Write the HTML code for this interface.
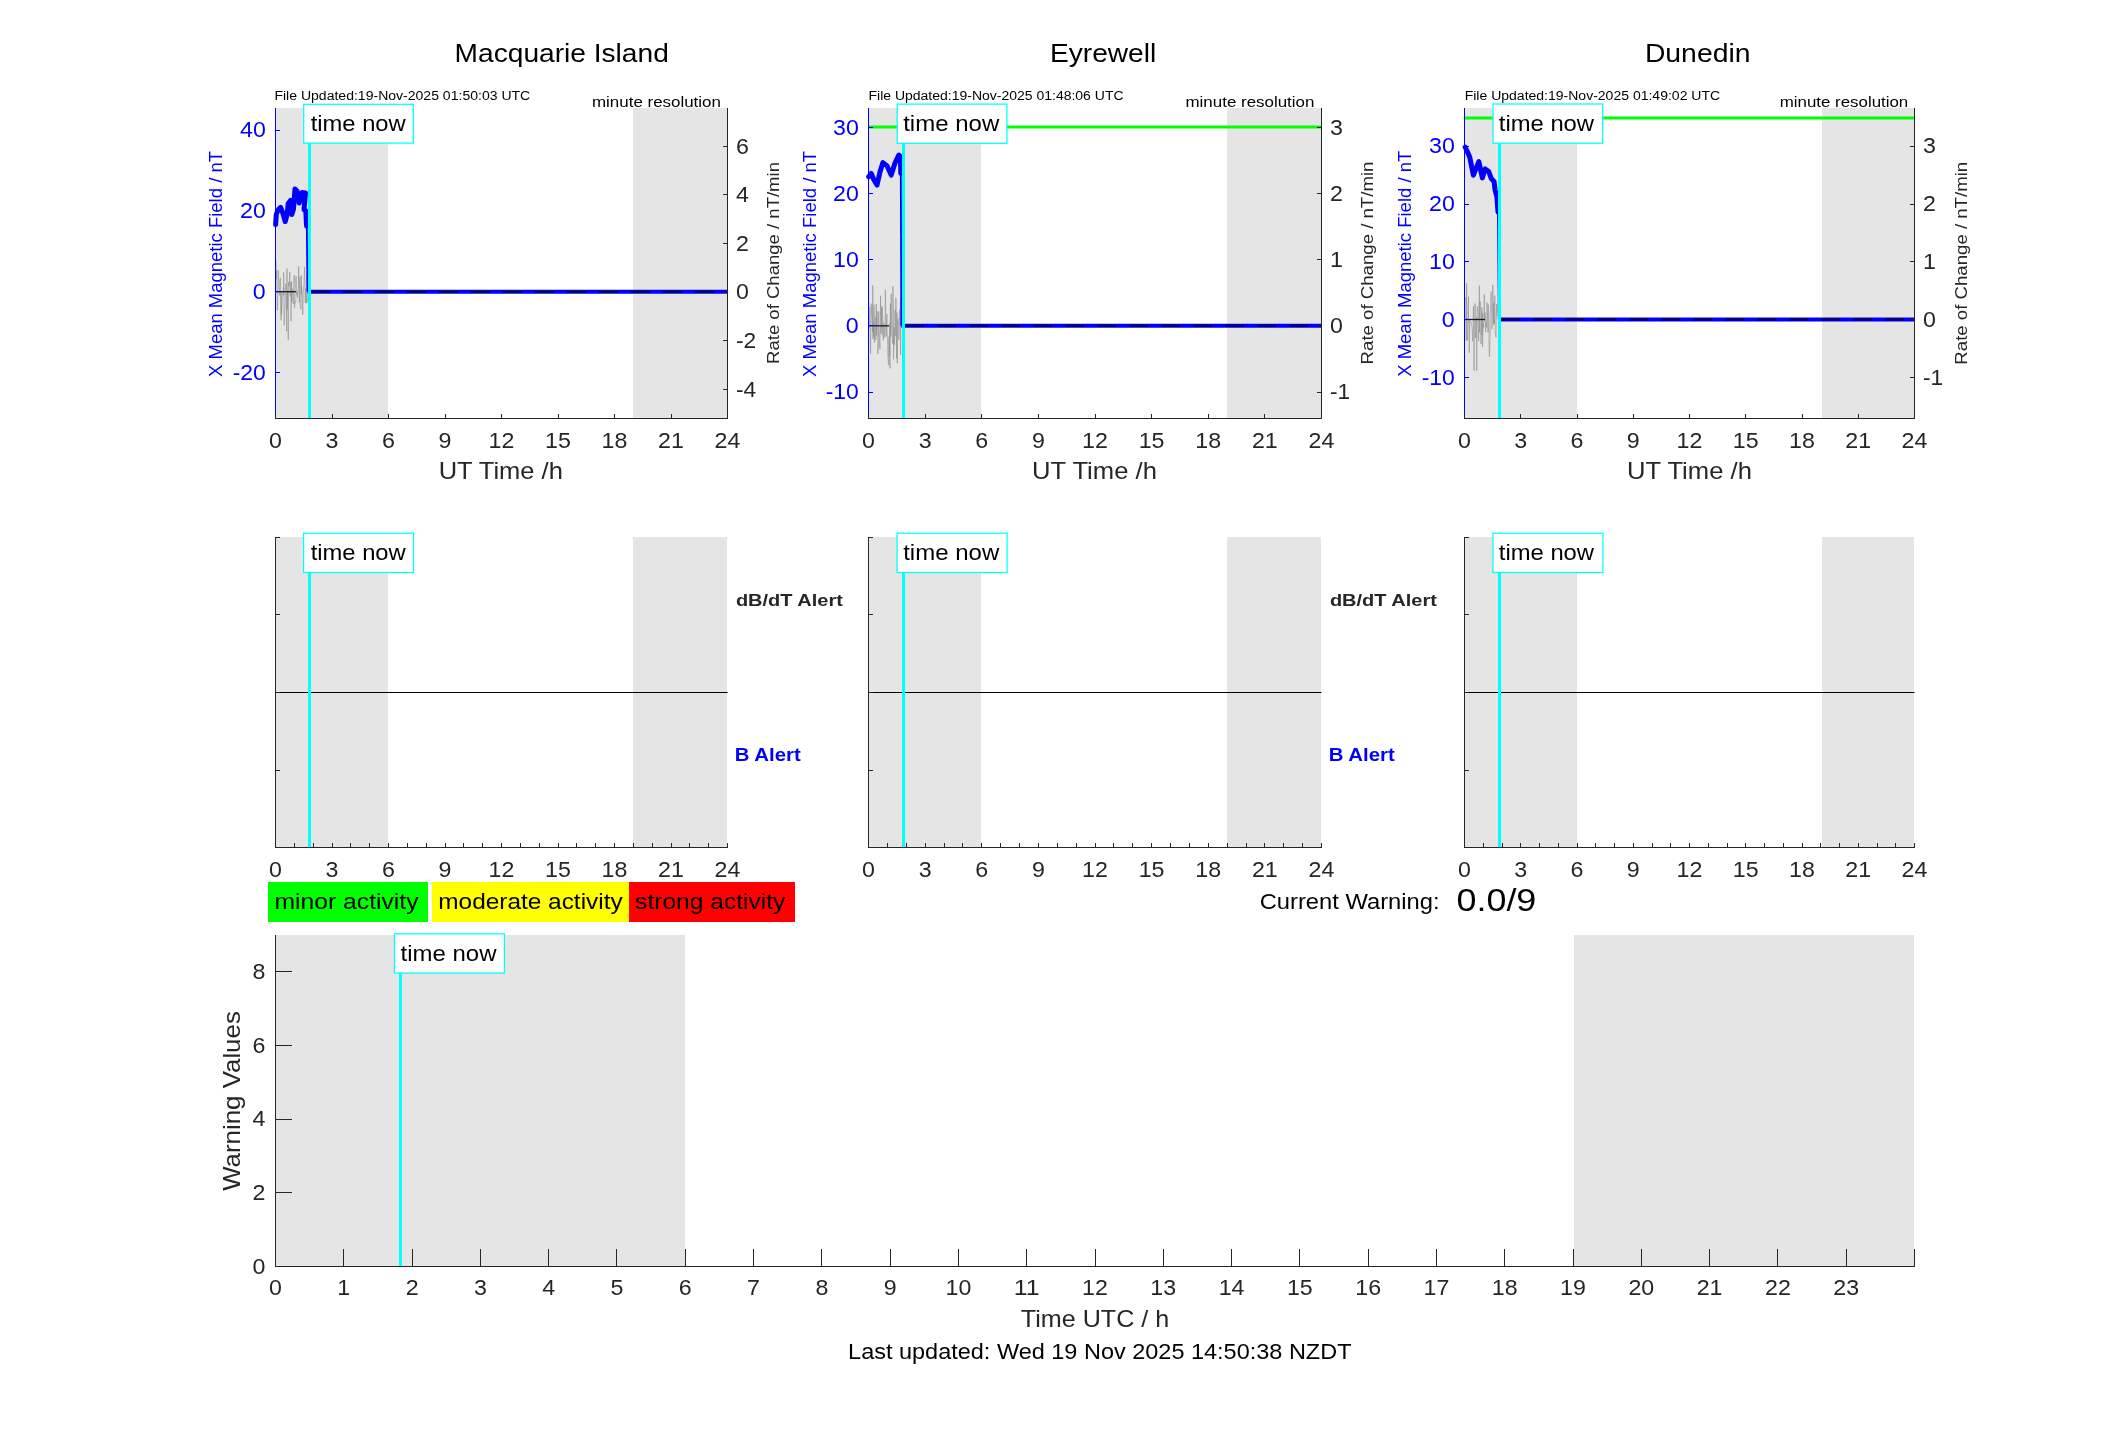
<!DOCTYPE html>
<html><head><meta charset="utf-8"><title>Geomagnetic activity</title>
<style>
html,body{margin:0;padding:0;background:#fff;}
body{width:2117px;height:1437px;overflow:hidden;}
svg{display:block;font-family:"Liberation Sans",sans-serif;will-change:transform;}
</style></head><body>
<svg width="2117" height="1437" viewBox="0 0 2117 1437">
<rect x="0" y="0" width="2117" height="1437" fill="#fff"/>
<g shape-rendering="crispEdges">
<rect x="276.00" y="108.00" width="112.00" height="310.00" fill="#e5e5e5" />
<rect x="633.00" y="108.00" width="94.00" height="310.00" fill="#e5e5e5" />
</g>
<path d="M275.97,260.00 L276.40,279.20 L276.61,270.61 L276.95,290.12 L277.35,310.28 L278.28,270.23 L278.48,277.25 L278.81,278.87 L279.00,291.89 L279.55,295.40 L280.00,280.47 L280.36,278.08 L281.08,320.42 L281.07,290.92 L281.46,314.83 L282.19,302.62 L282.65,291.98 L283.02,291.29 L283.47,287.03 L283.74,295.21 L283.73,272.51 L284.14,325.30 L284.53,316.61 L285.21,301.54 L285.38,290.80 L285.74,283.80 L286.19,286.75 L286.65,331.29 L286.99,268.52 L287.32,309.85 L287.79,290.36 L288.24,339.70 L288.51,281.99 L289.08,286.14 L289.83,272.19 L289.77,293.70 L290.60,296.40 L290.90,281.35 L290.97,321.21 L291.50,282.14 L291.67,302.47 L292.20,289.13 L292.80,289.19 L292.89,300.67 L293.58,304.12 L294.19,275.13 L294.05,287.39 L294.55,307.88 L295.18,301.33 L295.83,302.17 L296.05,276.05 L296.05,287.53 L296.85,294.72 L297.12,290.98 L297.42,297.63 L298.07,291.68 L298.47,284.06 L298.64,266.19 L299.37,302.45 L299.74,280.41 L300.00,277.05 L300.07,305.06 L301.02,309.33 L301.26,275.10 L301.48,295.01 L301.64,286.37 L302.31,294.58 L302.78,314.74 L302.97,304.36 L303.33,292.60 L304.15,283.02 L304.21,278.02 L304.53,267.06 L305.34,303.13 L305.56,288.41 L306.11,299.12 L306.43,303.18 L306.67,287.97 L306.93,273.67 L307.39,302.52" fill="none" stroke="#8a8a8a" stroke-width="0.55"/>
<line x1="276.00" y1="291.70" x2="296.00" y2="291.70" stroke="#1a1a1a" stroke-width="1.3" />
<path d="M275.6,224.5 L276.3,214.0 L278.5,209.5 L280.6,207.3 L283.0,213.5 L285.2,221.5 L287.2,214.0 L288.2,203.5 L290.5,200.5 L291.8,214.5 L293.5,209.0 L295.0,189.0 L297.0,191.0 L299.2,203.0 L302.0,192.5 L305.5,193.0 L304.0,209.5 L305.8,211.0 L306.6,226.0" fill="none" stroke="#0000ff" stroke-width="5" stroke-linejoin="round" stroke-linecap="round"/>
<line x1="306.80" y1="224.00" x2="307.50" y2="291.70" stroke="#0000ff" stroke-width="1.8" />
<line x1="307.50" y1="291.70" x2="727.00" y2="291.70" stroke="#0000ff" stroke-width="4" />
<line x1="311.00" y1="291.70" x2="727.00" y2="291.70" stroke="#00004d" stroke-width="2" stroke-dasharray="19 13"/>
<rect x="308.00" y="108.00" width="3.00" height="310.00" fill="#00ffff" />
<g shape-rendering="crispEdges">
<rect x="275.00" y="108.00" width="1.00" height="311.00" fill="#0000ff" />
<rect x="275.00" y="418.00" width="453.00" height="1.00" fill="#262626" />
<rect x="727.00" y="108.00" width="1.00" height="311.00" fill="#262626" />
<rect x="275.00" y="130.00" width="5.00" height="1.00" fill="#0000ff" />
<rect x="275.00" y="210.00" width="5.00" height="1.00" fill="#0000ff" />
<rect x="275.00" y="291.00" width="5.00" height="1.00" fill="#0000ff" />
<rect x="275.00" y="372.00" width="5.00" height="1.00" fill="#0000ff" />
<rect x="723.00" y="146.00" width="5.00" height="1.00" fill="#262626" />
<rect x="723.00" y="194.00" width="5.00" height="1.00" fill="#262626" />
<rect x="723.00" y="243.00" width="5.00" height="1.00" fill="#262626" />
<rect x="723.00" y="292.00" width="5.00" height="1.00" fill="#262626" />
<rect x="723.00" y="340.00" width="5.00" height="1.00" fill="#262626" />
<rect x="723.00" y="389.00" width="5.00" height="1.00" fill="#262626" />
<line x1="275.50" y1="418.00" x2="275.50" y2="413.50" stroke="#262626" stroke-width="1" />
<line x1="332.00" y1="418.00" x2="332.00" y2="413.50" stroke="#262626" stroke-width="1" />
<line x1="388.50" y1="418.00" x2="388.50" y2="413.50" stroke="#262626" stroke-width="1" />
<line x1="445.00" y1="418.00" x2="445.00" y2="413.50" stroke="#262626" stroke-width="1" />
<line x1="501.50" y1="418.00" x2="501.50" y2="413.50" stroke="#262626" stroke-width="1" />
<line x1="558.00" y1="418.00" x2="558.00" y2="413.50" stroke="#262626" stroke-width="1" />
<line x1="614.50" y1="418.00" x2="614.50" y2="413.50" stroke="#262626" stroke-width="1" />
<line x1="671.00" y1="418.00" x2="671.00" y2="413.50" stroke="#262626" stroke-width="1" />
<line x1="727.50" y1="418.00" x2="727.50" y2="413.50" stroke="#262626" stroke-width="1" />
</g>
<text x="275.50" y="448.30" font-size="21.32" fill="#262626" text-anchor="middle" textLength="12.91" lengthAdjust="spacingAndGlyphs">0</text>
<text x="332.00" y="448.30" font-size="21.32" fill="#262626" text-anchor="middle" textLength="12.91" lengthAdjust="spacingAndGlyphs">3</text>
<text x="388.50" y="448.30" font-size="21.32" fill="#262626" text-anchor="middle" textLength="12.91" lengthAdjust="spacingAndGlyphs">6</text>
<text x="445.00" y="448.30" font-size="21.32" fill="#262626" text-anchor="middle" textLength="12.91" lengthAdjust="spacingAndGlyphs">9</text>
<text x="501.50" y="448.30" font-size="21.32" fill="#262626" text-anchor="middle" textLength="25.81" lengthAdjust="spacingAndGlyphs">12</text>
<text x="558.00" y="448.30" font-size="21.32" fill="#262626" text-anchor="middle" textLength="25.81" lengthAdjust="spacingAndGlyphs">15</text>
<text x="614.50" y="448.30" font-size="21.32" fill="#262626" text-anchor="middle" textLength="25.81" lengthAdjust="spacingAndGlyphs">18</text>
<text x="671.00" y="448.30" font-size="21.32" fill="#262626" text-anchor="middle" textLength="25.81" lengthAdjust="spacingAndGlyphs">21</text>
<text x="727.50" y="448.30" font-size="21.32" fill="#262626" text-anchor="middle" textLength="25.81" lengthAdjust="spacingAndGlyphs">24</text>
<text x="265.80" y="137.30" font-size="21.32" fill="#0000ff" text-anchor="end" textLength="25.81" lengthAdjust="spacingAndGlyphs">40</text>
<text x="265.80" y="218.10" font-size="21.32" fill="#0000ff" text-anchor="end" textLength="25.81" lengthAdjust="spacingAndGlyphs">20</text>
<text x="265.80" y="299.00" font-size="21.32" fill="#0000ff" text-anchor="end" textLength="12.91" lengthAdjust="spacingAndGlyphs">0</text>
<text x="265.80" y="379.50" font-size="21.32" fill="#0000ff" text-anchor="end" textLength="33.14" lengthAdjust="spacingAndGlyphs">-20</text>
<text x="736.00" y="153.50" font-size="21.32" fill="#262626" textLength="12.91" lengthAdjust="spacingAndGlyphs">6</text>
<text x="736.00" y="202.10" font-size="21.32" fill="#262626" textLength="12.91" lengthAdjust="spacingAndGlyphs">4</text>
<text x="736.00" y="250.70" font-size="21.32" fill="#262626" textLength="12.91" lengthAdjust="spacingAndGlyphs">2</text>
<text x="736.00" y="299.30" font-size="21.32" fill="#262626" textLength="12.91" lengthAdjust="spacingAndGlyphs">0</text>
<text x="736.00" y="347.90" font-size="21.32" fill="#262626" textLength="20.23" lengthAdjust="spacingAndGlyphs">-2</text>
<text x="736.00" y="396.50" font-size="21.32" fill="#262626" textLength="20.23" lengthAdjust="spacingAndGlyphs">-4</text>
<rect x="303.70" y="104.30" width="109.70" height="38.80" fill="#fff" stroke="#00ffff" stroke-width="1.25"/>
<text x="310.70" y="131.30" font-size="21.42" fill="#000" textLength="95.06" lengthAdjust="spacingAndGlyphs">time now</text>
<text x="454.60" y="61.90" font-size="25.93" fill="#000" textLength="214.22" lengthAdjust="spacingAndGlyphs">Macquarie Island</text>
<text x="274.40" y="99.90" font-size="13.12" fill="#000" textLength="255.86" lengthAdjust="spacingAndGlyphs">File Updated:19-Nov-2025 01:50:03 UTC</text>
<text x="592.00" y="107.00" font-size="15.12" fill="#000" textLength="128.87" lengthAdjust="spacingAndGlyphs">minute resolution</text>
<text x="221.50" y="264.00" font-size="17.43" fill="#0000ff" text-anchor="middle" textLength="225.93" lengthAdjust="spacingAndGlyphs" transform="rotate(-90 221.50 264.00)">X Mean Magnetic Field / nT</text>
<text x="779.20" y="263.00" font-size="17.22" fill="#262626" text-anchor="middle" textLength="201.93" lengthAdjust="spacingAndGlyphs" transform="rotate(-90 779.20 263.00)">Rate of Change / nT/min</text>
<text x="500.75" y="478.80" font-size="23.52" fill="#262626" text-anchor="middle" textLength="124.16" lengthAdjust="spacingAndGlyphs">UT Time /h</text>
<g shape-rendering="crispEdges">
<rect x="869.00" y="108.00" width="112.00" height="310.00" fill="#e5e5e5" />
<rect x="1227.00" y="108.00" width="94.00" height="310.00" fill="#e5e5e5" />
</g>
<line x1="869.00" y1="127.10" x2="1321.00" y2="127.10" stroke="#00ff00" stroke-width="3" />
<path d="M869.27,328.02 L869.22,328.50 L869.90,306.81 L870.49,353.50 L870.68,347.95 L871.15,303.65 L871.66,314.13 L872.05,318.44 L872.50,331.92 L872.76,285.47 L872.91,339.14 L873.73,322.08 L873.65,336.61 L874.00,304.66 L874.39,342.74 L875.02,317.18 L875.73,320.35 L875.76,340.29 L876.32,303.93 L876.45,335.51 L877.01,311.02 L877.78,332.55 L877.85,353.74 L878.34,345.19 L878.62,311.49 L879.15,333.95 L879.62,342.04 L879.88,349.28 L880.59,295.77 L880.76,333.40 L881.45,325.08 L881.64,307.70 L882.13,335.10 L882.08,305.96 L882.85,320.51 L883.14,334.06 L883.31,340.39 L883.82,322.74 L884.61,331.23 L884.78,337.47 L885.11,322.35 L885.33,289.54 L886.22,336.35 L886.35,328.02 L886.95,313.99 L887.09,331.70 L887.73,344.18 L887.77,353.90 L888.51,365.03 L889.01,336.47 L889.33,356.64 L889.68,322.99 L889.97,368.40 L890.40,303.52 L890.68,336.78 L891.20,293.80 L891.69,330.68 L892.29,337.75 L892.61,343.53 L892.84,286.43 L893.46,308.10 L893.51,359.37 L894.04,327.50 L894.31,345.05 L895.14,309.84 L895.04,314.45 L895.85,336.21 L895.88,297.79 L896.55,358.26 L897.02,312.56 L897.25,363.30 L898.00,318.77 L898.26,320.16 L898.30,337.52 L898.85,339.59 L899.35,327.88 L899.59,309.41 L900.38,328.21 L900.62,354.93 L900.72,297.73" fill="none" stroke="#8a8a8a" stroke-width="0.55"/>
<line x1="869.00" y1="325.80" x2="889.00" y2="325.80" stroke="#1a1a1a" stroke-width="1.3" />
<path d="M868.7,176.8 L871.2,173.4 L874.0,180.0 L877.0,185.1 L880.0,172.0 L882.9,162.6 L887.1,165.9 L891.2,175.1 L895.0,163.0 L898.8,155.0 L900.4,156.7 L900.8,173.4" fill="none" stroke="#0000ff" stroke-width="5" stroke-linejoin="round" stroke-linecap="round"/>
<line x1="900.80" y1="173.40" x2="901.30" y2="325.80" stroke="#0000ff" stroke-width="1.8" />
<line x1="901.30" y1="325.80" x2="1321.00" y2="325.80" stroke="#0000ff" stroke-width="4" />
<line x1="905.00" y1="325.80" x2="1321.00" y2="325.80" stroke="#00004d" stroke-width="2" stroke-dasharray="19 13"/>
<rect x="902.00" y="108.00" width="3.00" height="310.00" fill="#00ffff" />
<g shape-rendering="crispEdges">
<rect x="868.00" y="108.00" width="1.00" height="311.00" fill="#0000ff" />
<rect x="868.00" y="418.00" width="454.00" height="1.00" fill="#262626" />
<rect x="1321.00" y="108.00" width="1.00" height="311.00" fill="#262626" />
<rect x="868.00" y="127.00" width="5.00" height="1.00" fill="#0000ff" />
<rect x="868.00" y="193.00" width="5.00" height="1.00" fill="#0000ff" />
<rect x="868.00" y="259.00" width="5.00" height="1.00" fill="#0000ff" />
<rect x="868.00" y="325.00" width="5.00" height="1.00" fill="#0000ff" />
<rect x="868.00" y="392.00" width="5.00" height="1.00" fill="#0000ff" />
<rect x="1317.00" y="127.00" width="5.00" height="1.00" fill="#262626" />
<rect x="1317.00" y="193.00" width="5.00" height="1.00" fill="#262626" />
<rect x="1317.00" y="259.00" width="5.00" height="1.00" fill="#262626" />
<rect x="1317.00" y="325.00" width="5.00" height="1.00" fill="#262626" />
<rect x="1317.00" y="392.00" width="5.00" height="1.00" fill="#262626" />
<line x1="868.50" y1="418.00" x2="868.50" y2="413.50" stroke="#262626" stroke-width="1" />
<line x1="925.12" y1="418.00" x2="925.12" y2="413.50" stroke="#262626" stroke-width="1" />
<line x1="981.75" y1="418.00" x2="981.75" y2="413.50" stroke="#262626" stroke-width="1" />
<line x1="1038.38" y1="418.00" x2="1038.38" y2="413.50" stroke="#262626" stroke-width="1" />
<line x1="1095.00" y1="418.00" x2="1095.00" y2="413.50" stroke="#262626" stroke-width="1" />
<line x1="1151.62" y1="418.00" x2="1151.62" y2="413.50" stroke="#262626" stroke-width="1" />
<line x1="1208.25" y1="418.00" x2="1208.25" y2="413.50" stroke="#262626" stroke-width="1" />
<line x1="1264.88" y1="418.00" x2="1264.88" y2="413.50" stroke="#262626" stroke-width="1" />
<line x1="1321.50" y1="418.00" x2="1321.50" y2="413.50" stroke="#262626" stroke-width="1" />
</g>
<text x="868.50" y="448.30" font-size="21.32" fill="#262626" text-anchor="middle" textLength="12.91" lengthAdjust="spacingAndGlyphs">0</text>
<text x="925.12" y="448.30" font-size="21.32" fill="#262626" text-anchor="middle" textLength="12.91" lengthAdjust="spacingAndGlyphs">3</text>
<text x="981.75" y="448.30" font-size="21.32" fill="#262626" text-anchor="middle" textLength="12.91" lengthAdjust="spacingAndGlyphs">6</text>
<text x="1038.38" y="448.30" font-size="21.32" fill="#262626" text-anchor="middle" textLength="12.91" lengthAdjust="spacingAndGlyphs">9</text>
<text x="1095.00" y="448.30" font-size="21.32" fill="#262626" text-anchor="middle" textLength="25.81" lengthAdjust="spacingAndGlyphs">12</text>
<text x="1151.62" y="448.30" font-size="21.32" fill="#262626" text-anchor="middle" textLength="25.81" lengthAdjust="spacingAndGlyphs">15</text>
<text x="1208.25" y="448.30" font-size="21.32" fill="#262626" text-anchor="middle" textLength="25.81" lengthAdjust="spacingAndGlyphs">18</text>
<text x="1264.88" y="448.30" font-size="21.32" fill="#262626" text-anchor="middle" textLength="25.81" lengthAdjust="spacingAndGlyphs">21</text>
<text x="1321.50" y="448.30" font-size="21.32" fill="#262626" text-anchor="middle" textLength="25.81" lengthAdjust="spacingAndGlyphs">24</text>
<text x="858.80" y="134.50" font-size="21.32" fill="#0000ff" text-anchor="end" textLength="25.81" lengthAdjust="spacingAndGlyphs">30</text>
<text x="858.80" y="200.70" font-size="21.32" fill="#0000ff" text-anchor="end" textLength="25.81" lengthAdjust="spacingAndGlyphs">20</text>
<text x="858.80" y="266.90" font-size="21.32" fill="#0000ff" text-anchor="end" textLength="25.81" lengthAdjust="spacingAndGlyphs">10</text>
<text x="858.80" y="333.10" font-size="21.32" fill="#0000ff" text-anchor="end" textLength="12.91" lengthAdjust="spacingAndGlyphs">0</text>
<text x="858.80" y="399.30" font-size="21.32" fill="#0000ff" text-anchor="end" textLength="33.14" lengthAdjust="spacingAndGlyphs">-10</text>
<text x="1330.00" y="134.50" font-size="21.32" fill="#262626" textLength="12.91" lengthAdjust="spacingAndGlyphs">3</text>
<text x="1330.00" y="200.70" font-size="21.32" fill="#262626" textLength="12.91" lengthAdjust="spacingAndGlyphs">2</text>
<text x="1330.00" y="266.90" font-size="21.32" fill="#262626" textLength="12.91" lengthAdjust="spacingAndGlyphs">1</text>
<text x="1330.00" y="333.10" font-size="21.32" fill="#262626" textLength="12.91" lengthAdjust="spacingAndGlyphs">0</text>
<text x="1330.00" y="399.30" font-size="21.32" fill="#262626" textLength="20.23" lengthAdjust="spacingAndGlyphs">-1</text>
<rect x="897.20" y="104.10" width="109.70" height="39.20" fill="#fff" stroke="#00ffff" stroke-width="1.25"/>
<text x="903.20" y="131.30" font-size="21.42" fill="#000" textLength="96.06" lengthAdjust="spacingAndGlyphs">time now</text>
<text x="1050.00" y="61.90" font-size="25.93" fill="#000" textLength="106.18" lengthAdjust="spacingAndGlyphs">Eyrewell</text>
<text x="868.50" y="99.90" font-size="13.12" fill="#000" textLength="255.04" lengthAdjust="spacingAndGlyphs">File Updated:19-Nov-2025 01:48:06 UTC</text>
<text x="1185.50" y="107.00" font-size="15.12" fill="#000" textLength="128.90" lengthAdjust="spacingAndGlyphs">minute resolution</text>
<text x="815.70" y="264.00" font-size="17.43" fill="#0000ff" text-anchor="middle" textLength="226.13" lengthAdjust="spacingAndGlyphs" transform="rotate(-90 815.70 264.00)">X Mean Magnetic Field / nT</text>
<text x="1373.40" y="263.00" font-size="17.22" fill="#262626" text-anchor="middle" textLength="202.76" lengthAdjust="spacingAndGlyphs" transform="rotate(-90 1373.40 263.00)">Rate of Change / nT/min</text>
<text x="1094.50" y="478.80" font-size="23.52" fill="#262626" text-anchor="middle" textLength="124.79" lengthAdjust="spacingAndGlyphs">UT Time /h</text>
<g shape-rendering="crispEdges">
<rect x="1465.00" y="108.00" width="112.00" height="310.00" fill="#e5e5e5" />
<rect x="1822.00" y="108.00" width="92.00" height="310.00" fill="#e5e5e5" />
</g>
<line x1="1465.00" y1="118.10" x2="1914.00" y2="118.10" stroke="#00ff00" stroke-width="3" />
<path d="M1465.04,299.62 L1465.50,297.72 L1466.06,328.53 L1466.22,340.91 L1466.64,283.38 L1466.91,332.44 L1467.43,340.20 L1467.79,326.60 L1468.50,296.76 L1468.38,311.22 L1468.92,327.28 L1469.23,352.69 L1469.71,319.24 L1470.15,321.29 L1470.48,322.69 L1471.22,322.14 L1471.26,324.29 L1471.62,326.00 L1472.11,327.69 L1472.68,341.32 L1473.12,326.12 L1473.50,306.10 L1474.08,370.70 L1474.34,340.36 L1474.61,338.58 L1475.12,303.50 L1475.25,338.01 L1475.91,330.84 L1476.35,317.32 L1476.74,370.70 L1477.09,324.14 L1477.37,306.10 L1478.04,314.46 L1478.65,341.29 L1478.73,332.83 L1479.33,285.57 L1479.59,332.70 L1479.82,301.39 L1480.25,301.43 L1480.61,309.06 L1480.95,344.12 L1481.90,307.23 L1481.72,334.83 L1482.61,313.33 L1482.55,347.13 L1483.06,323.14 L1483.55,327.52 L1484.32,294.46 L1484.64,321.31 L1484.92,319.69 L1485.03,312.29 L1485.63,332.15 L1485.81,321.93 L1486.42,327.52 L1487.05,302.43 L1487.12,308.65 L1487.43,311.61 L1487.97,332.43 L1488.20,304.58 L1489.03,324.45 L1489.03,343.36 L1489.48,356.82 L1490.20,333.32 L1490.24,315.62 L1491.10,291.40 L1491.55,313.27 L1491.81,323.52 L1492.10,329.39 L1492.41,315.18 L1492.79,284.86 L1493.62,324.98 L1493.52,303.05 L1493.96,320.32 L1494.50,323.57 L1494.78,295.52 L1495.16,331.82 L1496.03,337.55 L1496.41,309.23 L1496.83,304.08 L1497.17,316.47" fill="none" stroke="#8a8a8a" stroke-width="0.55"/>
<line x1="1465.00" y1="319.50" x2="1485.00" y2="319.50" stroke="#1a1a1a" stroke-width="1.3" />
<path d="M1465.2,147.2 L1467.5,152.0 L1469.7,157.1 L1473.4,175.2 L1478.8,161.6 L1482.4,177.9 L1485.1,168.9 L1488.7,171.6 L1491.4,178.8 L1494.1,181.5 L1495.0,189.6 L1496.9,196.9 L1498.0,212.0" fill="none" stroke="#0000ff" stroke-width="5" stroke-linejoin="round" stroke-linecap="round"/>
<line x1="1498.00" y1="212.00" x2="1498.80" y2="319.50" stroke="#0000ff" stroke-width="1.8" />
<line x1="1498.80" y1="319.50" x2="1914.00" y2="319.50" stroke="#0000ff" stroke-width="4" />
<line x1="1501.00" y1="319.50" x2="1914.00" y2="319.50" stroke="#00004d" stroke-width="2" stroke-dasharray="19 13"/>
<rect x="1498.00" y="108.00" width="3.00" height="310.00" fill="#00ffff" />
<g shape-rendering="crispEdges">
<rect x="1464.00" y="108.00" width="1.00" height="311.00" fill="#0000ff" />
<rect x="1464.00" y="418.00" width="451.00" height="1.00" fill="#262626" />
<rect x="1914.00" y="108.00" width="1.00" height="311.00" fill="#262626" />
<rect x="1464.00" y="146.00" width="5.00" height="1.00" fill="#0000ff" />
<rect x="1464.00" y="204.00" width="5.00" height="1.00" fill="#0000ff" />
<rect x="1464.00" y="261.00" width="5.00" height="1.00" fill="#0000ff" />
<rect x="1464.00" y="319.00" width="5.00" height="1.00" fill="#0000ff" />
<rect x="1464.00" y="377.00" width="5.00" height="1.00" fill="#0000ff" />
<rect x="1910.00" y="146.00" width="5.00" height="1.00" fill="#262626" />
<rect x="1910.00" y="204.00" width="5.00" height="1.00" fill="#262626" />
<rect x="1910.00" y="261.00" width="5.00" height="1.00" fill="#262626" />
<rect x="1910.00" y="319.00" width="5.00" height="1.00" fill="#262626" />
<rect x="1910.00" y="377.00" width="5.00" height="1.00" fill="#262626" />
<line x1="1464.50" y1="418.00" x2="1464.50" y2="413.50" stroke="#262626" stroke-width="1" />
<line x1="1520.75" y1="418.00" x2="1520.75" y2="413.50" stroke="#262626" stroke-width="1" />
<line x1="1577.00" y1="418.00" x2="1577.00" y2="413.50" stroke="#262626" stroke-width="1" />
<line x1="1633.25" y1="418.00" x2="1633.25" y2="413.50" stroke="#262626" stroke-width="1" />
<line x1="1689.50" y1="418.00" x2="1689.50" y2="413.50" stroke="#262626" stroke-width="1" />
<line x1="1745.75" y1="418.00" x2="1745.75" y2="413.50" stroke="#262626" stroke-width="1" />
<line x1="1802.00" y1="418.00" x2="1802.00" y2="413.50" stroke="#262626" stroke-width="1" />
<line x1="1858.25" y1="418.00" x2="1858.25" y2="413.50" stroke="#262626" stroke-width="1" />
<line x1="1914.50" y1="418.00" x2="1914.50" y2="413.50" stroke="#262626" stroke-width="1" />
</g>
<text x="1464.50" y="448.30" font-size="21.32" fill="#262626" text-anchor="middle" textLength="12.91" lengthAdjust="spacingAndGlyphs">0</text>
<text x="1520.75" y="448.30" font-size="21.32" fill="#262626" text-anchor="middle" textLength="12.91" lengthAdjust="spacingAndGlyphs">3</text>
<text x="1577.00" y="448.30" font-size="21.32" fill="#262626" text-anchor="middle" textLength="12.91" lengthAdjust="spacingAndGlyphs">6</text>
<text x="1633.25" y="448.30" font-size="21.32" fill="#262626" text-anchor="middle" textLength="12.91" lengthAdjust="spacingAndGlyphs">9</text>
<text x="1689.50" y="448.30" font-size="21.32" fill="#262626" text-anchor="middle" textLength="25.81" lengthAdjust="spacingAndGlyphs">12</text>
<text x="1745.75" y="448.30" font-size="21.32" fill="#262626" text-anchor="middle" textLength="25.81" lengthAdjust="spacingAndGlyphs">15</text>
<text x="1802.00" y="448.30" font-size="21.32" fill="#262626" text-anchor="middle" textLength="25.81" lengthAdjust="spacingAndGlyphs">18</text>
<text x="1858.25" y="448.30" font-size="21.32" fill="#262626" text-anchor="middle" textLength="25.81" lengthAdjust="spacingAndGlyphs">21</text>
<text x="1914.50" y="448.30" font-size="21.32" fill="#262626" text-anchor="middle" textLength="25.81" lengthAdjust="spacingAndGlyphs">24</text>
<text x="1454.80" y="153.40" font-size="21.32" fill="#0000ff" text-anchor="end" textLength="25.81" lengthAdjust="spacingAndGlyphs">30</text>
<text x="1454.80" y="211.40" font-size="21.32" fill="#0000ff" text-anchor="end" textLength="25.81" lengthAdjust="spacingAndGlyphs">20</text>
<text x="1454.80" y="269.10" font-size="21.32" fill="#0000ff" text-anchor="end" textLength="25.81" lengthAdjust="spacingAndGlyphs">10</text>
<text x="1454.80" y="326.80" font-size="21.32" fill="#0000ff" text-anchor="end" textLength="12.91" lengthAdjust="spacingAndGlyphs">0</text>
<text x="1454.80" y="384.70" font-size="21.32" fill="#0000ff" text-anchor="end" textLength="33.14" lengthAdjust="spacingAndGlyphs">-10</text>
<text x="1923.00" y="153.40" font-size="21.32" fill="#262626" textLength="12.91" lengthAdjust="spacingAndGlyphs">3</text>
<text x="1923.00" y="211.40" font-size="21.32" fill="#262626" textLength="12.91" lengthAdjust="spacingAndGlyphs">2</text>
<text x="1923.00" y="269.10" font-size="21.32" fill="#262626" textLength="12.91" lengthAdjust="spacingAndGlyphs">1</text>
<text x="1923.00" y="326.80" font-size="21.32" fill="#262626" textLength="12.91" lengthAdjust="spacingAndGlyphs">0</text>
<text x="1923.00" y="384.70" font-size="21.32" fill="#262626" textLength="20.23" lengthAdjust="spacingAndGlyphs">-1</text>
<rect x="1493.00" y="104.00" width="109.70" height="39.20" fill="#fff" stroke="#00ffff" stroke-width="1.25"/>
<text x="1498.80" y="131.30" font-size="21.42" fill="#000" textLength="95.26" lengthAdjust="spacingAndGlyphs">time now</text>
<text x="1644.90" y="61.90" font-size="25.93" fill="#000" textLength="105.58" lengthAdjust="spacingAndGlyphs">Dunedin</text>
<text x="1464.70" y="99.90" font-size="13.12" fill="#000" textLength="255.43" lengthAdjust="spacingAndGlyphs">File Updated:19-Nov-2025 01:49:02 UTC</text>
<text x="1779.80" y="107.00" font-size="15.12" fill="#000" textLength="128.46" lengthAdjust="spacingAndGlyphs">minute resolution</text>
<text x="1410.60" y="263.75" font-size="17.43" fill="#0000ff" text-anchor="middle" textLength="226.14" lengthAdjust="spacingAndGlyphs" transform="rotate(-90 1410.60 263.75)">X Mean Magnetic Field / nT</text>
<text x="1967.10" y="263.25" font-size="17.22" fill="#262626" text-anchor="middle" textLength="202.75" lengthAdjust="spacingAndGlyphs" transform="rotate(-90 1967.10 263.25)">Rate of Change / nT/min</text>
<text x="1689.50" y="478.80" font-size="23.52" fill="#262626" text-anchor="middle" textLength="124.79" lengthAdjust="spacingAndGlyphs">UT Time /h</text>
<g shape-rendering="crispEdges">
<rect x="276.00" y="537.00" width="112.00" height="310.00" fill="#e5e5e5" />
<rect x="633.00" y="537.00" width="94.00" height="310.00" fill="#e5e5e5" />
</g>
<line x1="275.00" y1="692.50" x2="727.50" y2="692.50" stroke="#000" stroke-width="1" />
<rect x="308.00" y="537.00" width="3.00" height="310.00" fill="#00ffff" />
<g shape-rendering="crispEdges">
<rect x="275.00" y="537.00" width="1.00" height="311.00" fill="#262626" />
<rect x="275.00" y="847.00" width="453.00" height="1.00" fill="#262626" />
<line x1="275.00" y1="537.50" x2="279.50" y2="537.50" stroke="#262626" stroke-width="1" />
<line x1="275.00" y1="614.50" x2="279.50" y2="614.50" stroke="#262626" stroke-width="1" />
<line x1="275.00" y1="692.50" x2="279.50" y2="692.50" stroke="#262626" stroke-width="1" />
<line x1="275.00" y1="770.50" x2="279.50" y2="770.50" stroke="#262626" stroke-width="1" />
<line x1="275.50" y1="847.00" x2="275.50" y2="843.00" stroke="#262626" stroke-width="1" />
<line x1="294.33" y1="847.00" x2="294.33" y2="843.00" stroke="#262626" stroke-width="1" />
<line x1="313.17" y1="847.00" x2="313.17" y2="843.00" stroke="#262626" stroke-width="1" />
<line x1="332.00" y1="847.00" x2="332.00" y2="843.00" stroke="#262626" stroke-width="1" />
<line x1="350.83" y1="847.00" x2="350.83" y2="843.00" stroke="#262626" stroke-width="1" />
<line x1="369.67" y1="847.00" x2="369.67" y2="843.00" stroke="#262626" stroke-width="1" />
<line x1="388.50" y1="847.00" x2="388.50" y2="843.00" stroke="#262626" stroke-width="1" />
<line x1="407.33" y1="847.00" x2="407.33" y2="843.00" stroke="#262626" stroke-width="1" />
<line x1="426.17" y1="847.00" x2="426.17" y2="843.00" stroke="#262626" stroke-width="1" />
<line x1="445.00" y1="847.00" x2="445.00" y2="843.00" stroke="#262626" stroke-width="1" />
<line x1="463.83" y1="847.00" x2="463.83" y2="843.00" stroke="#262626" stroke-width="1" />
<line x1="482.67" y1="847.00" x2="482.67" y2="843.00" stroke="#262626" stroke-width="1" />
<line x1="501.50" y1="847.00" x2="501.50" y2="843.00" stroke="#262626" stroke-width="1" />
<line x1="520.33" y1="847.00" x2="520.33" y2="843.00" stroke="#262626" stroke-width="1" />
<line x1="539.17" y1="847.00" x2="539.17" y2="843.00" stroke="#262626" stroke-width="1" />
<line x1="558.00" y1="847.00" x2="558.00" y2="843.00" stroke="#262626" stroke-width="1" />
<line x1="576.83" y1="847.00" x2="576.83" y2="843.00" stroke="#262626" stroke-width="1" />
<line x1="595.67" y1="847.00" x2="595.67" y2="843.00" stroke="#262626" stroke-width="1" />
<line x1="614.50" y1="847.00" x2="614.50" y2="843.00" stroke="#262626" stroke-width="1" />
<line x1="633.33" y1="847.00" x2="633.33" y2="843.00" stroke="#262626" stroke-width="1" />
<line x1="652.17" y1="847.00" x2="652.17" y2="843.00" stroke="#262626" stroke-width="1" />
<line x1="671.00" y1="847.00" x2="671.00" y2="843.00" stroke="#262626" stroke-width="1" />
<line x1="689.83" y1="847.00" x2="689.83" y2="843.00" stroke="#262626" stroke-width="1" />
<line x1="708.67" y1="847.00" x2="708.67" y2="843.00" stroke="#262626" stroke-width="1" />
<line x1="727.50" y1="847.00" x2="727.50" y2="843.00" stroke="#262626" stroke-width="1" />
</g>
<text x="275.50" y="877.00" font-size="21.32" fill="#262626" text-anchor="middle" textLength="12.91" lengthAdjust="spacingAndGlyphs">0</text>
<text x="332.00" y="877.00" font-size="21.32" fill="#262626" text-anchor="middle" textLength="12.91" lengthAdjust="spacingAndGlyphs">3</text>
<text x="388.50" y="877.00" font-size="21.32" fill="#262626" text-anchor="middle" textLength="12.91" lengthAdjust="spacingAndGlyphs">6</text>
<text x="445.00" y="877.00" font-size="21.32" fill="#262626" text-anchor="middle" textLength="12.91" lengthAdjust="spacingAndGlyphs">9</text>
<text x="501.50" y="877.00" font-size="21.32" fill="#262626" text-anchor="middle" textLength="25.81" lengthAdjust="spacingAndGlyphs">12</text>
<text x="558.00" y="877.00" font-size="21.32" fill="#262626" text-anchor="middle" textLength="25.81" lengthAdjust="spacingAndGlyphs">15</text>
<text x="614.50" y="877.00" font-size="21.32" fill="#262626" text-anchor="middle" textLength="25.81" lengthAdjust="spacingAndGlyphs">18</text>
<text x="671.00" y="877.00" font-size="21.32" fill="#262626" text-anchor="middle" textLength="25.81" lengthAdjust="spacingAndGlyphs">21</text>
<text x="727.50" y="877.00" font-size="21.32" fill="#262626" text-anchor="middle" textLength="25.81" lengthAdjust="spacingAndGlyphs">24</text>
<rect x="303.60" y="533.20" width="110.00" height="39.30" fill="#fff" stroke="#00ffff" stroke-width="1.25"/>
<text x="310.70" y="560.00" font-size="21.42" fill="#000" textLength="95.06" lengthAdjust="spacingAndGlyphs">time now</text>
<text x="735.90" y="606.40" font-size="17.32" fill="#262626" font-weight="bold" textLength="106.94" lengthAdjust="spacingAndGlyphs">dB/dT Alert</text>
<text x="734.70" y="761.00" font-size="17.43" fill="#0000ff" font-weight="bold" textLength="66.01" lengthAdjust="spacingAndGlyphs">B Alert</text>
<g shape-rendering="crispEdges">
<rect x="869.00" y="537.00" width="112.00" height="310.00" fill="#e5e5e5" />
<rect x="1227.00" y="537.00" width="94.00" height="310.00" fill="#e5e5e5" />
</g>
<line x1="868.00" y1="692.50" x2="1321.50" y2="692.50" stroke="#000" stroke-width="1" />
<rect x="902.00" y="537.00" width="3.00" height="310.00" fill="#00ffff" />
<g shape-rendering="crispEdges">
<rect x="868.00" y="537.00" width="1.00" height="311.00" fill="#262626" />
<rect x="868.00" y="847.00" width="454.00" height="1.00" fill="#262626" />
<line x1="868.00" y1="537.50" x2="872.50" y2="537.50" stroke="#262626" stroke-width="1" />
<line x1="868.00" y1="614.50" x2="872.50" y2="614.50" stroke="#262626" stroke-width="1" />
<line x1="868.00" y1="692.50" x2="872.50" y2="692.50" stroke="#262626" stroke-width="1" />
<line x1="868.00" y1="770.50" x2="872.50" y2="770.50" stroke="#262626" stroke-width="1" />
<line x1="868.50" y1="847.00" x2="868.50" y2="843.00" stroke="#262626" stroke-width="1" />
<line x1="887.38" y1="847.00" x2="887.38" y2="843.00" stroke="#262626" stroke-width="1" />
<line x1="906.25" y1="847.00" x2="906.25" y2="843.00" stroke="#262626" stroke-width="1" />
<line x1="925.12" y1="847.00" x2="925.12" y2="843.00" stroke="#262626" stroke-width="1" />
<line x1="944.00" y1="847.00" x2="944.00" y2="843.00" stroke="#262626" stroke-width="1" />
<line x1="962.88" y1="847.00" x2="962.88" y2="843.00" stroke="#262626" stroke-width="1" />
<line x1="981.75" y1="847.00" x2="981.75" y2="843.00" stroke="#262626" stroke-width="1" />
<line x1="1000.62" y1="847.00" x2="1000.62" y2="843.00" stroke="#262626" stroke-width="1" />
<line x1="1019.50" y1="847.00" x2="1019.50" y2="843.00" stroke="#262626" stroke-width="1" />
<line x1="1038.38" y1="847.00" x2="1038.38" y2="843.00" stroke="#262626" stroke-width="1" />
<line x1="1057.25" y1="847.00" x2="1057.25" y2="843.00" stroke="#262626" stroke-width="1" />
<line x1="1076.12" y1="847.00" x2="1076.12" y2="843.00" stroke="#262626" stroke-width="1" />
<line x1="1095.00" y1="847.00" x2="1095.00" y2="843.00" stroke="#262626" stroke-width="1" />
<line x1="1113.88" y1="847.00" x2="1113.88" y2="843.00" stroke="#262626" stroke-width="1" />
<line x1="1132.75" y1="847.00" x2="1132.75" y2="843.00" stroke="#262626" stroke-width="1" />
<line x1="1151.62" y1="847.00" x2="1151.62" y2="843.00" stroke="#262626" stroke-width="1" />
<line x1="1170.50" y1="847.00" x2="1170.50" y2="843.00" stroke="#262626" stroke-width="1" />
<line x1="1189.38" y1="847.00" x2="1189.38" y2="843.00" stroke="#262626" stroke-width="1" />
<line x1="1208.25" y1="847.00" x2="1208.25" y2="843.00" stroke="#262626" stroke-width="1" />
<line x1="1227.12" y1="847.00" x2="1227.12" y2="843.00" stroke="#262626" stroke-width="1" />
<line x1="1246.00" y1="847.00" x2="1246.00" y2="843.00" stroke="#262626" stroke-width="1" />
<line x1="1264.88" y1="847.00" x2="1264.88" y2="843.00" stroke="#262626" stroke-width="1" />
<line x1="1283.75" y1="847.00" x2="1283.75" y2="843.00" stroke="#262626" stroke-width="1" />
<line x1="1302.62" y1="847.00" x2="1302.62" y2="843.00" stroke="#262626" stroke-width="1" />
<line x1="1321.50" y1="847.00" x2="1321.50" y2="843.00" stroke="#262626" stroke-width="1" />
</g>
<text x="868.50" y="877.00" font-size="21.32" fill="#262626" text-anchor="middle" textLength="12.91" lengthAdjust="spacingAndGlyphs">0</text>
<text x="925.12" y="877.00" font-size="21.32" fill="#262626" text-anchor="middle" textLength="12.91" lengthAdjust="spacingAndGlyphs">3</text>
<text x="981.75" y="877.00" font-size="21.32" fill="#262626" text-anchor="middle" textLength="12.91" lengthAdjust="spacingAndGlyphs">6</text>
<text x="1038.38" y="877.00" font-size="21.32" fill="#262626" text-anchor="middle" textLength="12.91" lengthAdjust="spacingAndGlyphs">9</text>
<text x="1095.00" y="877.00" font-size="21.32" fill="#262626" text-anchor="middle" textLength="25.81" lengthAdjust="spacingAndGlyphs">12</text>
<text x="1151.62" y="877.00" font-size="21.32" fill="#262626" text-anchor="middle" textLength="25.81" lengthAdjust="spacingAndGlyphs">15</text>
<text x="1208.25" y="877.00" font-size="21.32" fill="#262626" text-anchor="middle" textLength="25.81" lengthAdjust="spacingAndGlyphs">18</text>
<text x="1264.88" y="877.00" font-size="21.32" fill="#262626" text-anchor="middle" textLength="25.81" lengthAdjust="spacingAndGlyphs">21</text>
<text x="1321.50" y="877.00" font-size="21.32" fill="#262626" text-anchor="middle" textLength="25.81" lengthAdjust="spacingAndGlyphs">24</text>
<rect x="897.10" y="533.20" width="110.00" height="39.30" fill="#fff" stroke="#00ffff" stroke-width="1.25"/>
<text x="903.20" y="560.00" font-size="21.42" fill="#000" textLength="96.06" lengthAdjust="spacingAndGlyphs">time now</text>
<text x="1329.90" y="606.40" font-size="17.32" fill="#262626" font-weight="bold" textLength="106.94" lengthAdjust="spacingAndGlyphs">dB/dT Alert</text>
<text x="1328.70" y="761.00" font-size="17.43" fill="#0000ff" font-weight="bold" textLength="66.01" lengthAdjust="spacingAndGlyphs">B Alert</text>
<g shape-rendering="crispEdges">
<rect x="1465.00" y="537.00" width="112.00" height="310.00" fill="#e5e5e5" />
<rect x="1822.00" y="537.00" width="92.00" height="310.00" fill="#e5e5e5" />
</g>
<line x1="1464.00" y1="692.50" x2="1914.50" y2="692.50" stroke="#000" stroke-width="1" />
<rect x="1498.00" y="537.00" width="3.00" height="310.00" fill="#00ffff" />
<g shape-rendering="crispEdges">
<rect x="1464.00" y="537.00" width="1.00" height="311.00" fill="#262626" />
<rect x="1464.00" y="847.00" width="451.00" height="1.00" fill="#262626" />
<line x1="1464.00" y1="537.50" x2="1468.50" y2="537.50" stroke="#262626" stroke-width="1" />
<line x1="1464.00" y1="614.50" x2="1468.50" y2="614.50" stroke="#262626" stroke-width="1" />
<line x1="1464.00" y1="692.50" x2="1468.50" y2="692.50" stroke="#262626" stroke-width="1" />
<line x1="1464.00" y1="770.50" x2="1468.50" y2="770.50" stroke="#262626" stroke-width="1" />
<line x1="1464.50" y1="847.00" x2="1464.50" y2="843.00" stroke="#262626" stroke-width="1" />
<line x1="1483.25" y1="847.00" x2="1483.25" y2="843.00" stroke="#262626" stroke-width="1" />
<line x1="1502.00" y1="847.00" x2="1502.00" y2="843.00" stroke="#262626" stroke-width="1" />
<line x1="1520.75" y1="847.00" x2="1520.75" y2="843.00" stroke="#262626" stroke-width="1" />
<line x1="1539.50" y1="847.00" x2="1539.50" y2="843.00" stroke="#262626" stroke-width="1" />
<line x1="1558.25" y1="847.00" x2="1558.25" y2="843.00" stroke="#262626" stroke-width="1" />
<line x1="1577.00" y1="847.00" x2="1577.00" y2="843.00" stroke="#262626" stroke-width="1" />
<line x1="1595.75" y1="847.00" x2="1595.75" y2="843.00" stroke="#262626" stroke-width="1" />
<line x1="1614.50" y1="847.00" x2="1614.50" y2="843.00" stroke="#262626" stroke-width="1" />
<line x1="1633.25" y1="847.00" x2="1633.25" y2="843.00" stroke="#262626" stroke-width="1" />
<line x1="1652.00" y1="847.00" x2="1652.00" y2="843.00" stroke="#262626" stroke-width="1" />
<line x1="1670.75" y1="847.00" x2="1670.75" y2="843.00" stroke="#262626" stroke-width="1" />
<line x1="1689.50" y1="847.00" x2="1689.50" y2="843.00" stroke="#262626" stroke-width="1" />
<line x1="1708.25" y1="847.00" x2="1708.25" y2="843.00" stroke="#262626" stroke-width="1" />
<line x1="1727.00" y1="847.00" x2="1727.00" y2="843.00" stroke="#262626" stroke-width="1" />
<line x1="1745.75" y1="847.00" x2="1745.75" y2="843.00" stroke="#262626" stroke-width="1" />
<line x1="1764.50" y1="847.00" x2="1764.50" y2="843.00" stroke="#262626" stroke-width="1" />
<line x1="1783.25" y1="847.00" x2="1783.25" y2="843.00" stroke="#262626" stroke-width="1" />
<line x1="1802.00" y1="847.00" x2="1802.00" y2="843.00" stroke="#262626" stroke-width="1" />
<line x1="1820.75" y1="847.00" x2="1820.75" y2="843.00" stroke="#262626" stroke-width="1" />
<line x1="1839.50" y1="847.00" x2="1839.50" y2="843.00" stroke="#262626" stroke-width="1" />
<line x1="1858.25" y1="847.00" x2="1858.25" y2="843.00" stroke="#262626" stroke-width="1" />
<line x1="1877.00" y1="847.00" x2="1877.00" y2="843.00" stroke="#262626" stroke-width="1" />
<line x1="1895.75" y1="847.00" x2="1895.75" y2="843.00" stroke="#262626" stroke-width="1" />
<line x1="1914.50" y1="847.00" x2="1914.50" y2="843.00" stroke="#262626" stroke-width="1" />
</g>
<text x="1464.50" y="877.00" font-size="21.32" fill="#262626" text-anchor="middle" textLength="12.91" lengthAdjust="spacingAndGlyphs">0</text>
<text x="1520.75" y="877.00" font-size="21.32" fill="#262626" text-anchor="middle" textLength="12.91" lengthAdjust="spacingAndGlyphs">3</text>
<text x="1577.00" y="877.00" font-size="21.32" fill="#262626" text-anchor="middle" textLength="12.91" lengthAdjust="spacingAndGlyphs">6</text>
<text x="1633.25" y="877.00" font-size="21.32" fill="#262626" text-anchor="middle" textLength="12.91" lengthAdjust="spacingAndGlyphs">9</text>
<text x="1689.50" y="877.00" font-size="21.32" fill="#262626" text-anchor="middle" textLength="25.81" lengthAdjust="spacingAndGlyphs">12</text>
<text x="1745.75" y="877.00" font-size="21.32" fill="#262626" text-anchor="middle" textLength="25.81" lengthAdjust="spacingAndGlyphs">15</text>
<text x="1802.00" y="877.00" font-size="21.32" fill="#262626" text-anchor="middle" textLength="25.81" lengthAdjust="spacingAndGlyphs">18</text>
<text x="1858.25" y="877.00" font-size="21.32" fill="#262626" text-anchor="middle" textLength="25.81" lengthAdjust="spacingAndGlyphs">21</text>
<text x="1914.50" y="877.00" font-size="21.32" fill="#262626" text-anchor="middle" textLength="25.81" lengthAdjust="spacingAndGlyphs">24</text>
<rect x="1492.90" y="533.20" width="110.00" height="39.30" fill="#fff" stroke="#00ffff" stroke-width="1.25"/>
<text x="1498.80" y="560.00" font-size="21.42" fill="#000" textLength="95.26" lengthAdjust="spacingAndGlyphs">time now</text>
<g shape-rendering="crispEdges">
<rect x="268.00" y="881.60" width="160.00" height="40.30" fill="#00ff00" />
<rect x="432.00" y="881.60" width="197.00" height="40.30" fill="#ffff00" />
<rect x="629.00" y="881.60" width="166.00" height="40.30" fill="#ff0000" />
</g>
<text x="274.40" y="908.80" font-size="21.63" fill="#000" textLength="144.20" lengthAdjust="spacingAndGlyphs">minor activity</text>
<text x="438.30" y="909.20" font-size="21.63" fill="#000" textLength="184.35" lengthAdjust="spacingAndGlyphs">moderate activity</text>
<text x="635.10" y="909.20" font-size="21.63" fill="#000" textLength="150.25" lengthAdjust="spacingAndGlyphs">strong activity</text>
<text x="1259.70" y="908.60" font-size="21.84" fill="#000" textLength="179.93" lengthAdjust="spacingAndGlyphs">Current Warning:</text>
<text x="1456.40" y="911.20" font-size="30.87" fill="#000" textLength="79.99" lengthAdjust="spacingAndGlyphs">0.0/9</text>
<g shape-rendering="crispEdges">
<rect x="276.00" y="935.00" width="409.00" height="331.00" fill="#e5e5e5" />
<rect x="1573.50" y="935.00" width="340.50" height="331.00" fill="#e5e5e5" />
</g>
<rect x="399.00" y="935.00" width="3.00" height="331.00" fill="#00ffff" />
<g shape-rendering="crispEdges">
<rect x="275.00" y="935.00" width="1.00" height="332.00" fill="#262626" />
<rect x="275.00" y="1266.00" width="1640.00" height="1.00" fill="#262626" />
<line x1="275.00" y1="1266.50" x2="292.00" y2="1266.50" stroke="#262626" stroke-width="1" />
<line x1="275.00" y1="1192.84" x2="292.00" y2="1192.84" stroke="#262626" stroke-width="1" />
<line x1="275.00" y1="1119.18" x2="292.00" y2="1119.18" stroke="#262626" stroke-width="1" />
<line x1="275.00" y1="1045.52" x2="292.00" y2="1045.52" stroke="#262626" stroke-width="1" />
<line x1="275.00" y1="971.86" x2="292.00" y2="971.86" stroke="#262626" stroke-width="1" />
<line x1="275.50" y1="1266.00" x2="275.50" y2="1249.00" stroke="#262626" stroke-width="1" />
<line x1="343.79" y1="1266.00" x2="343.79" y2="1249.00" stroke="#262626" stroke-width="1" />
<line x1="412.08" y1="1266.00" x2="412.08" y2="1249.00" stroke="#262626" stroke-width="1" />
<line x1="480.38" y1="1266.00" x2="480.38" y2="1249.00" stroke="#262626" stroke-width="1" />
<line x1="548.67" y1="1266.00" x2="548.67" y2="1249.00" stroke="#262626" stroke-width="1" />
<line x1="616.96" y1="1266.00" x2="616.96" y2="1249.00" stroke="#262626" stroke-width="1" />
<line x1="685.25" y1="1266.00" x2="685.25" y2="1249.00" stroke="#262626" stroke-width="1" />
<line x1="753.54" y1="1266.00" x2="753.54" y2="1249.00" stroke="#262626" stroke-width="1" />
<line x1="821.83" y1="1266.00" x2="821.83" y2="1249.00" stroke="#262626" stroke-width="1" />
<line x1="890.12" y1="1266.00" x2="890.12" y2="1249.00" stroke="#262626" stroke-width="1" />
<line x1="958.42" y1="1266.00" x2="958.42" y2="1249.00" stroke="#262626" stroke-width="1" />
<line x1="1026.71" y1="1266.00" x2="1026.71" y2="1249.00" stroke="#262626" stroke-width="1" />
<line x1="1095.00" y1="1266.00" x2="1095.00" y2="1249.00" stroke="#262626" stroke-width="1" />
<line x1="1163.29" y1="1266.00" x2="1163.29" y2="1249.00" stroke="#262626" stroke-width="1" />
<line x1="1231.58" y1="1266.00" x2="1231.58" y2="1249.00" stroke="#262626" stroke-width="1" />
<line x1="1299.88" y1="1266.00" x2="1299.88" y2="1249.00" stroke="#262626" stroke-width="1" />
<line x1="1368.17" y1="1266.00" x2="1368.17" y2="1249.00" stroke="#262626" stroke-width="1" />
<line x1="1436.46" y1="1266.00" x2="1436.46" y2="1249.00" stroke="#262626" stroke-width="1" />
<line x1="1504.75" y1="1266.00" x2="1504.75" y2="1249.00" stroke="#262626" stroke-width="1" />
<line x1="1573.04" y1="1266.00" x2="1573.04" y2="1249.00" stroke="#262626" stroke-width="1" />
<line x1="1641.33" y1="1266.00" x2="1641.33" y2="1249.00" stroke="#262626" stroke-width="1" />
<line x1="1709.62" y1="1266.00" x2="1709.62" y2="1249.00" stroke="#262626" stroke-width="1" />
<line x1="1777.92" y1="1266.00" x2="1777.92" y2="1249.00" stroke="#262626" stroke-width="1" />
<line x1="1846.21" y1="1266.00" x2="1846.21" y2="1249.00" stroke="#262626" stroke-width="1" />
<line x1="1914.50" y1="1266.00" x2="1914.50" y2="1249.00" stroke="#262626" stroke-width="1" />
</g>
<text x="265.50" y="1273.80" font-size="21.32" fill="#262626" text-anchor="end" textLength="12.91" lengthAdjust="spacingAndGlyphs">0</text>
<text x="265.50" y="1200.14" font-size="21.32" fill="#262626" text-anchor="end" textLength="12.91" lengthAdjust="spacingAndGlyphs">2</text>
<text x="265.50" y="1126.48" font-size="21.32" fill="#262626" text-anchor="end" textLength="12.91" lengthAdjust="spacingAndGlyphs">4</text>
<text x="265.50" y="1052.82" font-size="21.32" fill="#262626" text-anchor="end" textLength="12.91" lengthAdjust="spacingAndGlyphs">6</text>
<text x="265.50" y="979.16" font-size="21.32" fill="#262626" text-anchor="end" textLength="12.91" lengthAdjust="spacingAndGlyphs">8</text>
<text x="275.50" y="1295.20" font-size="21.32" fill="#262626" text-anchor="middle" textLength="12.91" lengthAdjust="spacingAndGlyphs">0</text>
<text x="343.79" y="1295.20" font-size="21.32" fill="#262626" text-anchor="middle" textLength="12.91" lengthAdjust="spacingAndGlyphs">1</text>
<text x="412.08" y="1295.20" font-size="21.32" fill="#262626" text-anchor="middle" textLength="12.91" lengthAdjust="spacingAndGlyphs">2</text>
<text x="480.38" y="1295.20" font-size="21.32" fill="#262626" text-anchor="middle" textLength="12.91" lengthAdjust="spacingAndGlyphs">3</text>
<text x="548.67" y="1295.20" font-size="21.32" fill="#262626" text-anchor="middle" textLength="12.91" lengthAdjust="spacingAndGlyphs">4</text>
<text x="616.96" y="1295.20" font-size="21.32" fill="#262626" text-anchor="middle" textLength="12.91" lengthAdjust="spacingAndGlyphs">5</text>
<text x="685.25" y="1295.20" font-size="21.32" fill="#262626" text-anchor="middle" textLength="12.91" lengthAdjust="spacingAndGlyphs">6</text>
<text x="753.54" y="1295.20" font-size="21.32" fill="#262626" text-anchor="middle" textLength="12.91" lengthAdjust="spacingAndGlyphs">7</text>
<text x="821.83" y="1295.20" font-size="21.32" fill="#262626" text-anchor="middle" textLength="12.91" lengthAdjust="spacingAndGlyphs">8</text>
<text x="890.12" y="1295.20" font-size="21.32" fill="#262626" text-anchor="middle" textLength="12.91" lengthAdjust="spacingAndGlyphs">9</text>
<text x="958.42" y="1295.20" font-size="21.32" fill="#262626" text-anchor="middle" textLength="25.81" lengthAdjust="spacingAndGlyphs">10</text>
<text x="1026.71" y="1295.20" font-size="21.32" fill="#262626" text-anchor="middle" textLength="25.81" lengthAdjust="spacingAndGlyphs">11</text>
<text x="1095.00" y="1295.20" font-size="21.32" fill="#262626" text-anchor="middle" textLength="25.81" lengthAdjust="spacingAndGlyphs">12</text>
<text x="1163.29" y="1295.20" font-size="21.32" fill="#262626" text-anchor="middle" textLength="25.81" lengthAdjust="spacingAndGlyphs">13</text>
<text x="1231.58" y="1295.20" font-size="21.32" fill="#262626" text-anchor="middle" textLength="25.81" lengthAdjust="spacingAndGlyphs">14</text>
<text x="1299.88" y="1295.20" font-size="21.32" fill="#262626" text-anchor="middle" textLength="25.81" lengthAdjust="spacingAndGlyphs">15</text>
<text x="1368.17" y="1295.20" font-size="21.32" fill="#262626" text-anchor="middle" textLength="25.81" lengthAdjust="spacingAndGlyphs">16</text>
<text x="1436.46" y="1295.20" font-size="21.32" fill="#262626" text-anchor="middle" textLength="25.81" lengthAdjust="spacingAndGlyphs">17</text>
<text x="1504.75" y="1295.20" font-size="21.32" fill="#262626" text-anchor="middle" textLength="25.81" lengthAdjust="spacingAndGlyphs">18</text>
<text x="1573.04" y="1295.20" font-size="21.32" fill="#262626" text-anchor="middle" textLength="25.81" lengthAdjust="spacingAndGlyphs">19</text>
<text x="1641.33" y="1295.20" font-size="21.32" fill="#262626" text-anchor="middle" textLength="25.81" lengthAdjust="spacingAndGlyphs">20</text>
<text x="1709.62" y="1295.20" font-size="21.32" fill="#262626" text-anchor="middle" textLength="25.81" lengthAdjust="spacingAndGlyphs">21</text>
<text x="1777.92" y="1295.20" font-size="21.32" fill="#262626" text-anchor="middle" textLength="25.81" lengthAdjust="spacingAndGlyphs">22</text>
<text x="1846.21" y="1295.20" font-size="21.32" fill="#262626" text-anchor="middle" textLength="25.81" lengthAdjust="spacingAndGlyphs">23</text>
<rect x="394.40" y="933.90" width="110.00" height="39.10" fill="#fff" stroke="#00ffff" stroke-width="1.25"/>
<text x="400.60" y="960.80" font-size="21.42" fill="#000" textLength="95.86" lengthAdjust="spacingAndGlyphs">time now</text>
<text x="240.40" y="1101.00" font-size="24.57" fill="#262626" text-anchor="middle" textLength="179.63" lengthAdjust="spacingAndGlyphs" transform="rotate(-90 240.40 1101.00)">Warning Values</text>
<text x="1095.00" y="1326.60" font-size="24.04" fill="#262626" text-anchor="middle" textLength="148.45" lengthAdjust="spacingAndGlyphs">Time UTC / h</text>
<text x="848.10" y="1359.30" font-size="21.84" fill="#000" textLength="503.40" lengthAdjust="spacingAndGlyphs">Last updated: Wed 19 Nov 2025 14:50:38 NZDT</text>
</svg>
</body></html>
